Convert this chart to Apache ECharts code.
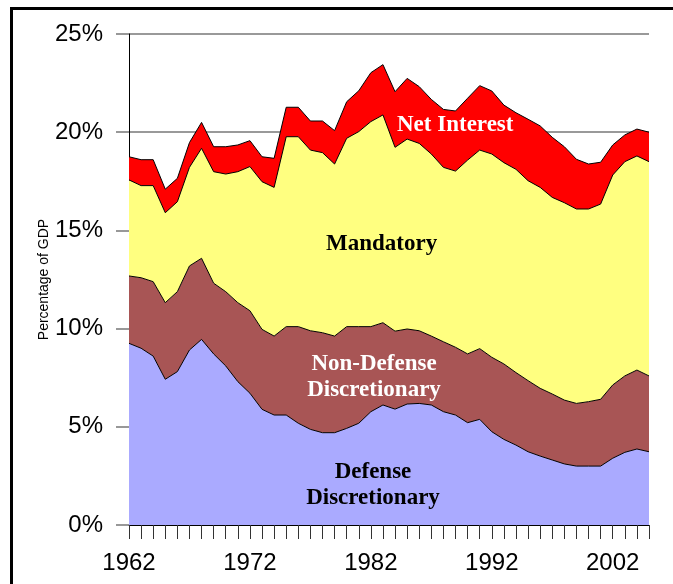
<!DOCTYPE html>
<html>
<head>
<meta charset="utf-8">
<script src="https://cdn.jsdelivr.net/npm/echarts@6/dist/echarts.min.js"></script>
<style>
  html, body { margin: 0; padding: 0; background: #fff; }
  #chart { width: 673px; height: 584px; }
</style>
</head>
<body>
<div id="chart"></div>
<script>
// years on the x axis
var years = ['1962','1963','1964','1965','1966','1967','1968','1969','1970','1971',
  '1972','1973','1974','1975','1976','1977','1978','1979','1980','1981',
  '1982','1983','1984','1985','1986','1987','1988','1989','1990','1991',
  '1992','1993','1994','1995','1996','1997','1998','1999','2000','2001',
  '2002','2003','2004','2005'];

// outlays as % of GDP (stacked bottom to top)
var defense = [9.25,9.0,8.6,7.42,7.81,8.91,9.45,8.71,8.1,7.3,
  6.71,5.89,5.6,5.6,5.18,4.87,4.7,4.7,4.92,5.18,
  5.77,6.11,5.9,6.16,6.19,6.11,5.77,5.6,5.21,5.38,
  4.75,4.36,4.07,3.73,3.51,3.31,3.11,3.0,3.0,3.0,
  3.4,3.7,3.87,3.73];
var nonDefense = [3.43,3.59,3.79,3.9,4.07,4.28,4.13,3.6,3.78,4.02,
  4.2,4.07,4.02,4.5,4.92,5.02,5.09,4.92,5.18,4.92,
  4.33,4.19,3.97,3.82,3.7,3.51,3.56,3.45,3.5,3.6,
  3.79,3.84,3.69,3.62,3.45,3.36,3.25,3.19,3.28,3.4,
  3.73,3.89,4.02,3.86];
var mandatory = [4.89,4.69,4.89,4.58,4.58,5.02,5.6,5.68,5.99,6.67,
  7.34,7.52,7.57,9.67,9.67,9.2,9.17,8.76,9.59,9.93,
  10.44,10.58,9.36,9.67,9.54,9.27,8.88,8.97,9.87,10.11,
  10.35,10.25,10.35,10.18,10.23,10.01,10.05,9.9,9.81,9.94,
  10.69,10.91,10.9,10.91];
var netInterest = [1.18,1.32,1.32,1.2,1.19,1.26,1.32,1.27,1.39,1.36,
  1.32,1.27,1.48,1.5,1.5,1.48,1.61,1.7,1.86,2.08,
  2.49,2.56,2.83,3.09,2.89,2.78,2.95,3.06,3.15,3.28,
  3.21,2.93,2.88,3.13,3.13,3.06,2.85,2.53,2.29,2.13,
  1.53,1.36,1.37,1.5];

var yTicks = [0, 5, 10, 15, 20, 25];

var chart = echarts.init(document.getElementById('chart'), null, { renderer: 'canvas' });

function area(name, data, color) {
  return {
    name: name,
    type: 'line',
    stack: 'total',
    data: data,
    symbol: 'none',
    smooth: false,
    silent: true,
    lineStyle: { color: '#000', width: 1 },
    areaStyle: { color: color, opacity: 1 },
    emphasis: { disabled: true }
  };
}

var serif = '"Liberation Serif", "Times New Roman", serif';
var sans = '"Liberation Sans", Arial, sans-serif';

var option = {
  animation: false,
  grid: { left: 129, right: 24, top: 34, bottom: 59, outerBoundsMode: 'none' },
  xAxis: {
    type: 'category',
    data: years,
    boundaryGap: false,
    axisLine: { show: true, lineStyle: { color: '#000', width: 1 } },
    axisTick: { show: true, interval: 0, length: 14, lineStyle: { color: '#333', width: 1 } },
    axisLabel: { interval: 9, margin: 26, fontSize: 24, color: '#000', fontFamily: sans },
    splitLine: { show: false }
  },
  yAxis: {
    type: 'value',
    min: yTicks[0],
    max: yTicks[yTicks.length - 1],
    interval: 5,
    name: 'Percentage of GDP',
    nameLocation: 'middle',
    nameRotate: 90,
    nameGap: 78,
    nameMoveOverlap: false,
    nameTextStyle: { fontSize: 14, color: '#000', fontFamily: sans },
    axisLine: { show: true, lineStyle: { color: '#000', width: 1 } },
    axisTick: { show: true, length: 13, lineStyle: { color: '#777', width: 1.5 } },
    axisLabel: { margin: 26, fontSize: 24, color: '#000', fontFamily: sans, formatter: '{value}%' },
    splitLine: { show: true, lineStyle: { color: '#777', width: 1.5 } }
  },
  series: [
    area('Defense Discretionary', defense, '#AAAAFF'),
    area('Non-Defense Discretionary', nonDefense, '#A85555'),
    area('Mandatory', mandatory, '#FFFF80'),
    area('Net Interest', netInterest, '#FF0000')
  ],
  graphic: [
    {
      type: 'rect', silent: true, z: 100,
      shape: { x: 11.5, y: 8.5, width: 800, height: 800 },
      style: { fill: 'none', stroke: '#000', lineWidth: 3 }
    },
    {
      type: 'text', z: 100, silent: true,
      style: { text: 'Net Interest', fill: '#fff', font: 'bold 23px ' + serif },
      position: [397, 114]
    },
    {
      type: 'text', z: 100, silent: true,
      style: { text: 'Mandatory', fill: '#000', font: 'bold 23px ' + serif },
      position: [326, 233]
    },
    {
      type: 'text', z: 100, silent: true,
      style: { text: 'Non-Defense\nDiscretionary', fill: '#fff', font: 'bold 23px ' + serif,
        align: 'center', lineHeight: 26 },
      position: [374, 351]
    },
    {
      type: 'text', z: 100, silent: true,
      style: { text: 'Defense\nDiscretionary', fill: '#000', font: 'bold 23px ' + serif,
        align: 'center', lineHeight: 26 },
      position: [373, 459]
    }
  ]
};

chart.setOption(option);
</script>
</body>
</html>
